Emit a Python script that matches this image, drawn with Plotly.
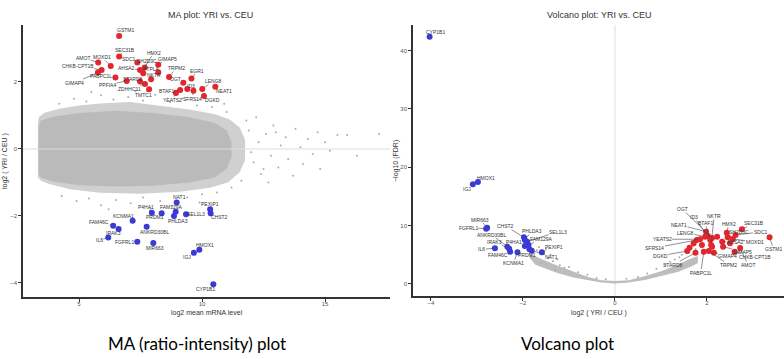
import plotly.graph_objects as go

# ---------------- MA plot data ----------------
ma_up_genes = ["GSTM1", "SEC31B", "HMX2", "AMOT", "MOXD1", "SDC1", "SH2D3C", "GIMAP5",
               "CHKB-CPT1B", "AHSA2", "PTPLA", "TRPM2", "EGR1", "PABPC1L", "STARD8", "OGT",
               "LENG8", "GIMAP4", "NEAT1", "ID3", "ZDHHC11", "PPFIA4", "NKTR", "BTAF1",
               "TMTC1", "YEATS2", "SFRS14", "DGKD"]
ma_up_A = [6.63, 6.63, 7.67, 5.78, 6.29, 7.37, 7.61, 8.22, 5.92, 7.48, 8.22, 8.66, 9.57, 6.48,
           7.48, 9.24, 10.01, 5.77, 10.54, 9.40, 7.68, 6.94, 7.93, 9.11, 7.85, 8.94, 9.65, 10.08]
ma_up_M = [3.37, 2.76, 2.43, 2.58, 2.48, 2.58, 2.26, 2.51, 2.36, 2.36, 2.29, 2.15, 2.10, 2.13,
           2.01, 1.98, 1.79, 2.28, 1.86, 1.79, 1.94, 2.03, 2.08, 1.76, 1.78, 1.67, 1.74, 1.58]

ma_down_genes = ["NAT1", "P4HA1", "FAM129A", "PRDM1", "PHLDA3", "SEL1L3", "PEXIP1", "CHST2",
                 "KCNMA1", "FAM46C", "IRAK3", "ANKRD30BL", "IL6", "FGFRL1", "MIR663", "HMOX1",
                 "IGJ", "CYP1B1"]
ma_down_A = [8.97, 7.96, 8.93, 8.36, 8.86, 9.35, 10.33, 10.35, 7.18, 6.39, 6.61, 7.75, 6.19,
             7.37, 8.02, 9.89, 9.67, 10.46]
ma_down_M = [-1.60, -1.90, -1.87, -1.92, -2.00, -1.95, -1.80, -1.92, -2.14, -2.29, -2.39, -2.32,
             -2.64, -2.77, -2.81, -3.01, -3.10, -4.04]

# outline of the sparse outer part of the non-significant gene cloud
ma_cloud_outer_A = [3.33, 3.36, 3.6, 4.2, 5.0, 5.85, 7.07, 8.29, 9.51, 10.53, 11.14, 11.54,
                    11.75, 11.75, 11.54, 11.06, 10.33, 9.11, 7.48, 5.85, 4.63, 3.82, 3.45, 3.33]
ma_cloud_outer_M = [0.72, 0.95, 1.08, 1.2, 1.3, 1.36, 1.4, 1.3, 1.18, 1.04, 0.87, 0.63, 0.27,
                    -0.33, -0.69, -0.99, -1.16, -1.28, -1.34, -1.31, -1.2, -1.05, -0.95, -0.84]
# outline of the dense core of the cloud
ma_cloud_core_A = [3.36, 3.45, 4.0, 5.0, 6.5, 8.0, 9.5, 10.5, 11.0, 11.2, 11.2, 11.0, 10.5, 9.5,
                   8.0, 6.5, 5.0, 4.0, 3.45, 3.36]
ma_cloud_core_M = [0.65, 0.85, 0.97, 1.07, 1.14, 1.07, 0.95, 0.78, 0.55, 0.2, -0.25, -0.6, -0.85,
                   -1.0, -1.1, -1.12, -1.08, -0.98, -0.86, -0.75]
# scattered non-significant genes outside the cloud
ma_bg_A = [11.9, 12.1, 12.3, 12.4, 12.6, 12.8, 12.9, 13.1, 13.2, 13.4, 13.5, 13.7, 13.8, 14.0,
           14.1, 14.3, 14.5, 14.7, 14.8, 15.0, 15.2, 15.5, 15.9, 16.3, 17.2,
           4.2, 4.8, 5.3, 5.9, 6.4, 7.0, 7.6, 8.1, 8.7, 9.2, 9.8, 10.4, 11.0, 5.5, 7.3, 10.9,
           4.3, 4.9, 5.4, 5.9, 6.5, 7.1, 7.6, 8.3, 8.8, 9.4, 10.0, 10.6, 11.2, 6.2, 7.9, 9.9, 11.6,
           12.0, 12.5, 13.0, 11.8, 12.2, 12.7]
ma_bg_M = [0.55, -0.4, 0.2, -0.75, 0.45, -0.2, 0.7, -0.55, 0.1, 0.35, -0.3, -0.8, 0.6, 0.05,
           -0.45, 0.3, -0.15, 0.5, -0.6, 0.2, -0.05, 0.42, 0.42, -0.2, 0.45,
           1.35, 1.5, 1.42, 1.6, 1.48, 1.55, 1.45, 1.62, 1.4, 1.5, 1.3, 1.25, 1.1, 1.7, 1.72, 1.35,
           -1.4, -1.55, -1.48, -1.68, -1.52, -1.62, -1.45, -1.55, -1.7, -1.45, -1.35, -1.3, -1.15,
           -1.8, -1.78, -1.6, -0.95,
           -0.1, -0.6, 0.5, 0.85, 0.95, -1.0]

# ---------------- Volcano plot data ----------------
vol_down_genes = ["CYP1B1", "HMOX1", "IGJ", "MIR663", "FGFRL1", "CHST2", "PHLDA3", "SEL1L3",
                  "FAM129A", "ANKRD30BL", "IRAK3", "P4HA1", "FAM46C", "IL6", "KCNMA1", "PRDM1",
                  "PEXIP1", "NAT1"]
vol_down_lfc = [-4.03, -2.98, -3.09, -2.78, -2.80, -1.98, -1.96, -1.91, -1.88, -2.34, -2.30,
                -1.96, -2.28, -2.61, -2.12, -1.86, -1.59, -1.81]
vol_down_nlfdr = [42.4, 17.5, 17.1, 9.66, 9.49, 8.0, 7.55, 7.26, 6.69, 6.40, 6.06, 6.52, 5.54,
                  6.12, 5.44, 5.95, 5.44, 5.71]

vol_up_genes = ["GSTM1", "SEC31B", "HMX2", "SDC1", "SH2D3C", "AHSA2", "MOXD1", "GIMAP5",
                "CHKB-CPT1B", "GIMAP4", "TRPM2", "AMOT", "PABPC1L", "STARD8", "DGKD", "SFRS14",
                "YEATS2", "LENG8", "NEAT1", "BTAF1", "ID3", "OGT", "NKTR"]
vol_up_lfc = [3.36, 2.76, 2.43, 2.62, 2.45, 2.33, 2.56, 2.35, 2.60, 2.15, 2.04, 2.72, 1.93, 1.75,
              1.57, 1.78, 1.85, 1.96, 1.98, 2.07, 2.02, 2.11, 2.09]
vol_up_nlfdr = [8.0, 9.38, 8.8, 8.4, 8.0, 7.26, 7.72, 6.4, 5.54, 5.37, 5.66, 6.17, 5.54, 5.37,
                5.66, 7.55, 7.67, 8.11, 8.97, 7.55, 8.23, 7.89, 6.69]
vol_up_extra_lfc = [1.71, 1.89, 2.22, 2.11, 2.50, 1.62]
vol_up_extra_nlfdr = [6.98, 6.69, 8.11, 6.4, 7.0, 6.2]

# outline of the crescent of non-significant genes
vol_band_lfc = [-1.85, -1.73, -1.5, -1.22, -0.9, -0.65, -0.3, 0.0, 0.3, 0.65, 0.9, 1.2, 1.38,
                1.66, 1.8, 1.8, 1.6, 1.3, 1.0, 0.6, 0.3, 0.0, -0.3, -0.6, -1.0, -1.3, -1.6, -1.85]
vol_band_nlfdr = [4.4, 3.3, 2.6, 1.8, 1.1, 0.7, 0.25, 0.1, 0.25, 0.7, 1.2, 1.7, 2.1, 3.0, 3.6,
                  4.8, 4.2, 3.1, 2.2, 1.25, 0.65, 0.5, 0.65, 1.25, 2.4, 3.3, 4.3, 5.2]
vol_bg_lfc = [-1.7, -1.55, -1.45, -1.35, -1.2, -1.1, -1.4, -1.0, -0.8, -0.6, -0.4, -1.65, -1.5,
              -1.25, 1.7, 1.55, 1.45, 1.3, 1.1, 0.9, 0.7, 0.5, 1.6, 1.75, 1.2, 1.4, 0.25, -0.2,
              -1.8, -1.6, -1.3]
vol_bg_nlfdr = [5.8, 5.2, 4.5, 3.9, 3.2, 2.8, 5.0, 2.9, 2.0, 1.6, 1.0, 6.3, 6.0, 4.2, 6.5, 5.9,
                5.0, 4.2, 3.3, 2.6, 1.8, 1.2, 5.3, 6.0, 3.8, 4.6, 0.9, 0.8, 4.6, 3.6, 2.4]

# ---------------- styling / label placement (pixel offsets) ----------------
ma_up_label_offsets = [(6, -6), (6, -7), (9, -15), (-15, -5), (-9, -9), (-8, -4), (4, -12),
                       (9, -6), (-24, -4), (-14, -2), (-7, -3), (7, -9), (6, -8), (-14, -2),
                       (-7, -3), (-8, -4), (11, -8), (-23, 10), (9, 4), (4, -3), (-15, 5),
                       (-19, 4), (3, -4), (-14, 1), (-6, 6), (-3, 7), (-1, 8), (9, 4)]
ma_down_label_offsets = [(3, -6), (-6, -6), (-4, -5), (-7, 4), (4, 5), (10, 0), (0, -5), (9, 4),
                         (-9, -5), (-14, -4), (-5, 4), (8, 5), (-9, 3), (-13, 0), (2, 5), (6, -5),
                         (-7, 4), (-8, 5)]
vol_down_label_offsets = [(6, -5), (8, -4), (-6, 5), (-7, -8), (-18, -1), (-18, -11), (7, -9),
                          (31, -10), (13, -6), (-16, -12), (-15, -7), (-11, -4), (-12, 3),
                          (-13, 1), (-4, 11), (-2, 6), (12, -5), (20, 6)]
vol_up_label_offsets = [(4, 12), (12, -6), (2, -9), (25, -3), (11, -5), (13, 0), (22, 3),
                        (19, 5), (20, 5), (14, 3), (20, 14), (8, 17), (-3, 21), (-22, 12),
                        (-27, 5), (-42, 8), (-38, 0), (-20, -4), (-27, -7), (-5, -17), (-14, -19),
                        (-30, -29), (3, -29)]

RED = "#e3262e"
BLUE = "#3a3ad6"
GREY = "#ababab"
AX = "#333333"
TICKF = dict(family="Liberation Sans, Arial, sans-serif", size=6, color="#555555")
LABF = dict(family="Liberation Sans, Arial, sans-serif", size=5, color="#333333")

fig = go.Figure()

# MA plot
fig.add_trace(go.Scatter(x=ma_cloud_outer_A, y=ma_cloud_outer_M, mode="lines", fill="toself",
                         fillcolor="#d0d0d0", line=dict(width=0), hoverinfo="skip",
                         xaxis="x", yaxis="y"))
fig.add_trace(go.Scatter(x=ma_cloud_core_A, y=ma_cloud_core_M, mode="lines", fill="toself",
                         fillcolor="#bababa", line=dict(width=0), hoverinfo="skip",
                         xaxis="x", yaxis="y"))
fig.add_trace(go.Scatter(x=ma_bg_A, y=ma_bg_M, mode="markers",
                         marker=dict(size=2, color=GREY), xaxis="x", yaxis="y"))
fig.add_trace(go.Scatter(x=ma_up_A, y=ma_up_M, mode="markers",
                         marker=dict(size=6, color=RED), xaxis="x", yaxis="y"))
fig.add_trace(go.Scatter(x=ma_down_A, y=ma_down_M, mode="markers",
                         marker=dict(size=6, color=BLUE), xaxis="x", yaxis="y"))

# Volcano plot
fig.add_trace(go.Scatter(x=vol_band_lfc, y=vol_band_nlfdr, mode="lines", fill="toself",
                         fillcolor="#bdbdbd", line=dict(width=0), hoverinfo="skip",
                         xaxis="x2", yaxis="y2"))
fig.add_trace(go.Scatter(x=vol_bg_lfc, y=vol_bg_nlfdr, mode="markers",
                         marker=dict(size=2, color=GREY), xaxis="x2", yaxis="y2"))
fig.add_trace(go.Scatter(x=vol_up_lfc + vol_up_extra_lfc, y=vol_up_nlfdr + vol_up_extra_nlfdr,
                         mode="markers", marker=dict(size=6, color=RED), xaxis="x2", yaxis="y2"))
fig.add_trace(go.Scatter(x=vol_down_lfc, y=vol_down_nlfdr, mode="markers",
                         marker=dict(size=6, color=BLUE), xaxis="x2", yaxis="y2"))

annotations = []


def add_labels(genes, xs, ys, offsets, xref, yref):
    for g, xv, yv, (dx, dy) in zip(genes, xs, ys, offsets):
        annotations.append(dict(x=xv, y=yv, xref=xref, yref=yref, text=g, showarrow=True,
                                arrowhead=0, arrowwidth=0.6, arrowcolor="#444444", ax=dx, ay=dy,
                                standoff=2, font=LABF, borderpad=0))


add_labels(ma_up_genes, ma_up_A, ma_up_M, ma_up_label_offsets, "x", "y")
add_labels(ma_down_genes, ma_down_A, ma_down_M, ma_down_label_offsets, "x", "y")
add_labels(vol_up_genes, vol_up_lfc, vol_up_nlfdr, vol_up_label_offsets, "x2", "y2")
add_labels(vol_down_genes, vol_down_lfc, vol_down_nlfdr, vol_down_label_offsets, "x2", "y2")

TITF = dict(family="Liberation Sans, Arial, sans-serif", size=9, color="#333333")
AXTF = dict(family="Liberation Sans, Arial, sans-serif", size=7, color="#333333")
CAPF = dict(family="Lato, sans-serif", size=17, color="#000000")


def paper_text(px, py, text, font, angle=0):
    return dict(x=px / 784, y=1 - py / 359, xref="paper", yref="paper", text=text,
                showarrow=False, font=font, textangle=angle, xanchor="center",
                yanchor="middle")


annotations += [
    paper_text(210, 15, "MA plot: YRI vs. CEU", TITF),
    paper_text(599, 15, "Volcano plot: YRI vs. CEU", TITF),
    paper_text(207, 313, "log2 mean mRNA level", AXTF),
    paper_text(599, 313, "log2 ( YRI / CEU )", AXTF),
    paper_text(5, 161, "log2 ( YRI / CEU )", AXTF, -90),
    paper_text(396, 161, "\u2212log10 (FDR)", AXTF, -90),
    paper_text(197, 343, "MA (ratio-intensity) plot", CAPF),
    paper_text(567, 343, "Volcano plot", CAPF),
]

axis_common = dict(showgrid=False, zeroline=False, showline=True, linecolor=AX, linewidth=1.6,
                   ticks="outside", ticklen=3, tickwidth=1, tickcolor=AX, tickfont=TICKF)

fig.update_layout(
    width=784, height=359, margin=dict(l=0, r=0, t=0, b=0),
    paper_bgcolor="white", plot_bgcolor="white", showlegend=False,
    xaxis=dict(domain=[23 / 784, 390 / 784], range=[2.724, 17.64], tickvals=[5, 10, 15],
               anchor="y", ticklabelstandoff=-3, **axis_common),
    yaxis=dict(domain=[1 - 297 / 359, 1 - 25 / 359], range=[-4.418, 3.70],
               tickvals=[-4, -2, 0, 2], anchor="x", **axis_common),
    xaxis2=dict(domain=[413 / 784, 1.0], range=[-4.391, 3.674], tickvals=[-4, -2, 0, 2],
                anchor="y2", ticklabelstandoff=-3, **axis_common),
    yaxis2=dict(domain=[1 - 296 / 359, 1 - 25 / 359], range=[-2.06, 44.4],
                tickvals=[0, 10, 20, 30, 40], anchor="x2", **axis_common),
    annotations=annotations,
    shapes=[
        dict(type="line", xref="x domain", yref="y", x0=0, x1=1, y0=0, y1=0,
             line=dict(color="#dedede", width=1), layer="above"),
        dict(type="line", xref="x2", yref="y2 domain", x0=0, x1=0, y0=0, y1=1,
             line=dict(color="#dedede", width=1), layer="below"),
    ],
)

fig.write_html("out.html")
